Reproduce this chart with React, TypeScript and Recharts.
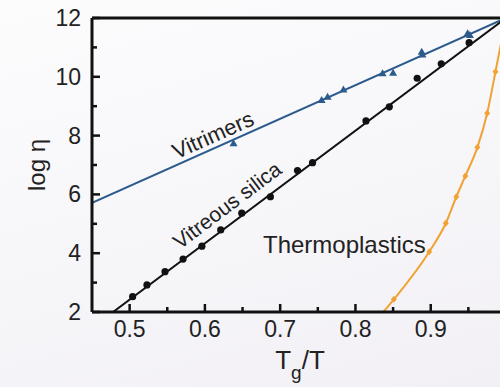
import React from 'react';
import { ComposedChart, Line, Scatter, XAxis, YAxis, ReferenceLine } from 'recharts';

// tick values
const xTicks = [0.5, 0.55, 0.6, 0.65, 0.7, 0.75, 0.8, 0.85, 0.9, 0.95];
const yTicks = [2, 3, 4, 5, 6, 7, 8, 9, 10, 11, 12];
const yMajor = [2, 4, 6, 8, 10, 12];

// vitrimers (measured + fitted line)
const vitrimerX = [0.638, 0.755, 0.763, 0.784, 0.836, 0.85, 0.888, 0.889, 0.949, 0.952];
const vitrimerY = [7.74, 9.21, 9.32, 9.57, 10.12, 10.14, 10.85, 10.76, 11.48, 11.42];
const vitrimerFitX = [0.45, 1.0];
const vitrimerFitY = [5.71, 12];

// vitreous silica
const silicaX = [0.504, 0.523, 0.547, 0.571, 0.596, 0.621, 0.649, 0.687, 0.723, 0.743, 0.814, 0.845, 0.882, 0.914, 0.951];
const silicaY = [2.52, 2.92, 3.37, 3.8, 4.24, 4.79, 5.36, 5.92, 6.81, 7.08, 8.5, 8.98, 9.95, 10.44, 11.16];
const silicaFitX = [0.478, 1.0];
const silicaFitY = [2, 12];

// thermoplastics
const thermoX = [0.851, 0.898, 0.92, 0.934, 0.946, 0.962, 0.975, 0.986];
const thermoY = [2.43, 4.05, 5.02, 5.92, 6.63, 7.6, 8.76, 10.17];
const thermoCurveX = [0.837, 0.851, 0.898, 0.92, 0.934, 0.946, 0.962, 0.975, 0.986, 1.0];
const thermoCurveY = [2, 2.43, 4.05, 5.02, 5.92, 6.63, 7.6, 8.76, 10.17, 12];

const zip = (xs: number[], ys: number[]) => xs.map((x, i) => ({ x, y: ys[i] }));

const BLUE = '#2b5a8c';
const BLACK = '#111';
const ORANGE = '#f0a232';
const FONT = '"Liberation Sans", Arial, Helvetica, sans-serif';

const isMajorX = (v: number) => Math.abs(v * 10 - Math.round(v * 10)) < 1e-6;

function XTick(props: any) {
  const { x, y, payload } = props;
  const v = payload.value as number;
  const major = isMajorX(v);
  return (
    <g>
      <line x1={x} x2={x} y1={y} y2={y - (major ? 8 : 5)} stroke={BLACK} strokeWidth={2.5} />
      {major && (
        <text x={x} y={y + 17} textAnchor="middle" dominantBaseline="central" fontSize={23} fill="#222" fontFamily={FONT}>
          {v.toFixed(1)}
        </text>
      )}
    </g>
  );
}

function YTick(props: any) {
  const { x, y, payload } = props;
  const v = payload.value as number;
  const major = yMajor.includes(v);
  return (
    <g>
      <line x1={x} x2={x + (major ? 8 : 5)} y1={y} y2={y} stroke={BLACK} strokeWidth={2.5} />
      {major && (
        <text x={x - 11} y={y} textAnchor="end" dominantBaseline="central" fontSize={23} fill="#222" fontFamily={FONT}>
          {v}
        </text>
      )}
    </g>
  );
}

const Triangle = (p: any) => (
  <polygon points={`${p.cx},${p.cy - 4} ${p.cx - 4},${p.cy + 3} ${p.cx + 4},${p.cy + 3}`} fill={BLUE} />
);
const Dot = (p: any) => <circle cx={p.cx} cy={p.cy} r={3.6} fill={BLACK} />;
const Diamond = (p: any) => (
  <polygon points={`${p.cx},${p.cy - 3.5} ${p.cx + 3},${p.cy} ${p.cx},${p.cy + 3.5} ${p.cx - 3},${p.cy}`} fill={ORANGE} />
);

export default function App() {
  return (
    <div
      style={{
        position: 'absolute',
        left: 0,
        top: 0,
        width: 500,
        height: 387,
        overflow: 'hidden',
        background: 'linear-gradient(165deg, #fcfcfd 0%, #f2f0f5 100%)',
      }}
    >
      <ComposedChart width={510} height={387} margin={{ top: 18, right: 4, bottom: 0, left: 0 }}>
        <XAxis
          dataKey="x"
          type="number"
          domain={[0.45, 1.0]}
          ticks={xTicks}
          interval={0}
          allowDataOverflow
          tickLine={false}
          tickSize={0}
          tickMargin={0}
          tick={(p: any) => <XTick {...p} />}
          axisLine={{ stroke: BLACK, strokeWidth: 3 }}
          height={75}
        />
        <YAxis
          type="number"
          domain={[2, 12]}
          ticks={yTicks}
          interval={0}
          allowDataOverflow
          tickLine={false}
          tickSize={0}
          tickMargin={0}
          tick={(p: any) => <YTick {...p} />}
          axisLine={{ stroke: BLACK, strokeWidth: 3 }}
          width={92}
        />
        <ReferenceLine y={12} stroke={BLACK} strokeWidth={3} />

        <Line data={zip(vitrimerFitX, vitrimerFitY)} dataKey="y" type="linear" stroke={BLUE} strokeWidth={2} dot={false} isAnimationActive={false} />
        <Line data={zip(silicaFitX, silicaFitY)} dataKey="y" type="linear" stroke={BLACK} strokeWidth={2} dot={false} isAnimationActive={false} />
        <Line data={zip(thermoCurveX, thermoCurveY)} dataKey="y" type="monotone" stroke={ORANGE} strokeWidth={2} dot={false} isAnimationActive={false} />

        <Scatter data={zip(vitrimerX, vitrimerY)} dataKey="y" shape={Triangle} isAnimationActive={false} />
        <Scatter data={zip(silicaX, silicaY)} dataKey="y" shape={Dot} isAnimationActive={false} />
        <Scatter data={zip(thermoX, thermoY)} dataKey="y" shape={Diamond} isAnimationActive={false} />

        <text x={45} y={165} transform="rotate(-90 45 165)" textAnchor="middle" fontSize={24} fill="#222" fontFamily={FONT}>
          log η
        </text>
        <text x={300} y={369} textAnchor="middle" fontSize={26} fill="#222" fontFamily={FONT}>
          T<tspan dy={10} fontSize={19}>g</tspan><tspan dy={-10}>/T</tspan>
        </text>
        <text x={213} y={135} transform="rotate(-24 213 135)" textAnchor="middle" dominantBaseline="central" fontSize={22} fill="#222" fontFamily={FONT}>
          Vitrimers
        </text>
        <text x={227} y={205} transform="rotate(-37 227 205)" textAnchor="middle" dominantBaseline="central" fontSize={21} fill="#222" fontFamily={FONT}>
          Vitreous silica
        </text>
        <text x={263} y={253} fontSize={24} fill="#222" fontFamily={FONT}>
          Thermoplastics
        </text>
      </ComposedChart>
    </div>
  );
}
